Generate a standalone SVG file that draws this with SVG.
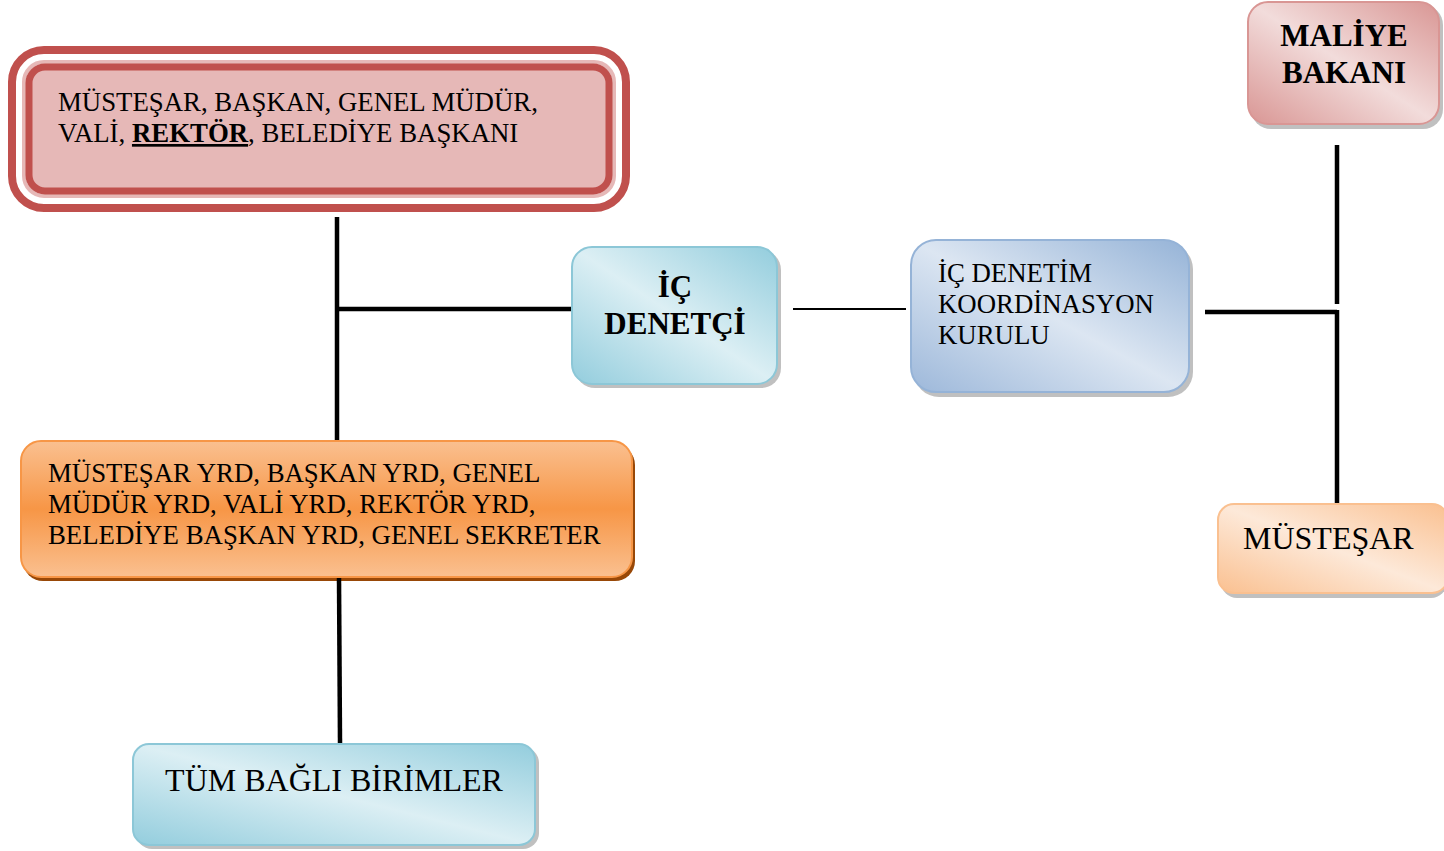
<svg xmlns="http://www.w3.org/2000/svg" width="1444" height="851" viewBox="0 0 1444 851">
<defs>
<linearGradient id="gCyan" x1="1" y1="0" x2="0" y2="1"><stop offset="0" stop-color="#93CDDD"/><stop offset="0.5" stop-color="#DCEFF4"/><stop offset="1" stop-color="#93CDDD"/></linearGradient>
<linearGradient id="gBlue" x1="1" y1="0" x2="0" y2="1"><stop offset="0" stop-color="#95B3D7"/><stop offset="0.5" stop-color="#DCE6F2"/><stop offset="1" stop-color="#9DB8DA"/></linearGradient>
<linearGradient id="gPink" x1="1" y1="0" x2="0" y2="1"><stop offset="0" stop-color="#D99694"/><stop offset="0.5" stop-color="#F2DCDB"/><stop offset="1" stop-color="#D99694"/></linearGradient>
<linearGradient id="gPeach" x1="1" y1="0" x2="0" y2="1"><stop offset="0" stop-color="#FAC090"/><stop offset="0.5" stop-color="#FDE9D9"/><stop offset="1" stop-color="#FAC090"/></linearGradient>
<linearGradient id="gOrange" x1="0" y1="0" x2="0" y2="1"><stop offset="0" stop-color="#FAC090"/><stop offset="0.5" stop-color="#F79646"/><stop offset="1" stop-color="#FAC090"/></linearGradient>
</defs>
<style>
.t{font-family:"Liberation Serif","Times New Roman",serif;font-size:26.8px;fill:#000}
.b{font-family:"Liberation Serif","Times New Roman",serif;font-size:31px;font-weight:bold;fill:#000}
.sh{fill:#8C8C8C;opacity:0.55}
.ln{stroke:#000;stroke-width:4.5;fill:none}
</style>
<rect width="1444" height="851" fill="#fff"/>

<g id="top-box">
<rect x="12" y="50" width="614" height="158" rx="32" fill="none" stroke="#C0504D" stroke-width="8"/>
<rect x="24" y="62" width="590" height="134" rx="20" fill="none" stroke="#E6B8B7" stroke-width="4"/>
<rect x="29" y="67" width="580" height="124" rx="16" fill="#E6B8B7" stroke="#C0504D" stroke-width="7"/>
<text class="t" x="58" y="111">MÜSTEŞAR, BAŞKAN, GENEL MÜDÜR,</text>
<text class="t" x="58" y="142">VALİ, <tspan font-weight="bold" text-decoration="underline">REKTÖR</tspan>, BELEDİYE BAŞKANI</text>
</g>

<g id="ic-denetci">
<rect class="sh" x="575" y="250" width="206" height="138" rx="20"/>
<rect x="572" y="247" width="205" height="137" rx="20" fill="url(#gCyan)" stroke="#8CC7D7" stroke-width="2"/>
<text class="b" x="675" y="297" text-anchor="middle">İÇ</text>
<text class="b" x="675" y="334" text-anchor="middle">DENETÇİ</text>
</g>

<g id="koordinasyon">
<rect class="sh" x="914" y="244" width="279" height="153" rx="25"/>
<rect x="911" y="240" width="278" height="152" rx="25" fill="url(#gBlue)" stroke="#95B3D7" stroke-width="2"/>
<text class="t" x="938" y="282">İÇ DENETİM</text>
<text class="t" x="938" y="313">KOORDİNASYON</text>
<text class="t" x="938" y="344">KURULU</text>
</g>

<g id="maliye">
<rect class="sh" x="1251" y="5" width="192" height="124" rx="20"/>
<rect x="1248" y="2" width="191" height="122" rx="20" fill="url(#gPink)" stroke="#D99694" stroke-width="2"/>
<text class="b" x="1344" y="46" text-anchor="middle">MALİYE</text>
<text class="b" x="1344" y="83" text-anchor="middle">BAKANI</text>
</g>

<g id="mustesar">
<rect class="sh" x="1221" y="508" width="226" height="90" rx="16"/>
<rect x="1218" y="504" width="230" height="89" rx="16" fill="url(#gPeach)" stroke="#FAC090" stroke-width="2"/>
<text class="t" x="1243" y="549" style="font-size:32px">MÜSTEŞAR</text>
</g>

<g id="yardimcilar">
<rect x="23" y="445" width="612" height="136" rx="20" fill="#984807"/>
<rect x="21" y="441" width="611" height="136" rx="20" fill="url(#gOrange)" stroke="#F79646" stroke-width="2"/>
<text class="t" x="48" y="482">MÜSTEŞAR YRD, BAŞKAN YRD, GENEL</text>
<text class="t" x="48" y="513">MÜDÜR YRD, VALİ YRD, REKTÖR YRD,</text>
<text class="t" x="48" y="544">BELEDİYE BAŞKAN YRD, GENEL SEKRETER</text>
</g>

<g id="tum-birimler">
<rect class="sh" x="136" y="747" width="403" height="102" rx="16"/>
<rect x="133" y="744" width="402" height="101" rx="16" fill="url(#gCyan)" stroke="#8CC7D7" stroke-width="2"/>
<text class="t" x="334" y="791" text-anchor="middle" style="font-size:32px">TÜM BAĞLI BİRİMLER</text>
</g>

<g id="connectors">
<line class="ln" x1="337" y1="217" x2="337" y2="440"/>
<line class="ln" x1="337" y1="309" x2="571" y2="309"/>
<line class="ln" x1="339" y1="578" x2="340" y2="743"/>
<line x1="793" y1="309" x2="906" y2="309" stroke="#000" stroke-width="2"/>
<line class="ln" x1="1205" y1="312" x2="1337" y2="312"/>
<line class="ln" x1="1337" y1="145" x2="1337" y2="304"/>
<line class="ln" x1="1337" y1="310" x2="1337" y2="503"/>
</g>
</svg>
